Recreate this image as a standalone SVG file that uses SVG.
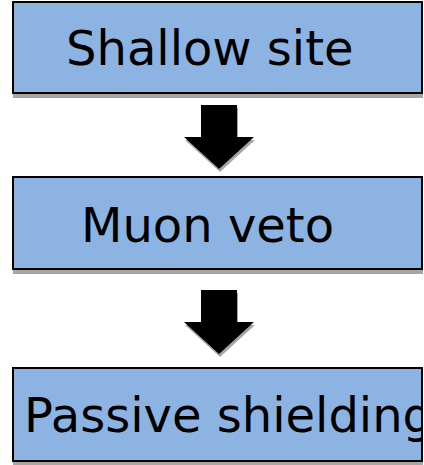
<svg xmlns="http://www.w3.org/2000/svg" width="424" height="465" viewBox="0 0 424 465">
<style>
.box{fill:#8db3e2;stroke:#000;stroke-width:2}
.sh{fill:#a6a6a6}
.t{font-family:"DejaVu Sans",sans-serif;font-size:48px;fill:#000}
.arr{fill:#000}
</style>
<defs>
<clipPath id="c3"><rect x="13" y="368" width="409" height="93"/></clipPath>
</defs>
<rect width="424" height="465" fill="#fff"/>
<g id="connectors">
<polygon class="sh" points="202,108 238,108 238,140 255,140 220,172 185,140 202,140"/>
<polygon class="arr" points="201,105 237,105 237,137 254,137 219,169 184,137 201,137"/>
<polygon class="sh" points="202,293 238,293 238,325 255,325 220,357 185,325 202,325"/>
<polygon class="arr" points="201,290 237,290 237,322 254,322 219,354 184,322 201,322"/>
</g>
<g id="n1">
<rect class="sh" x="13" y="93" width="410" height="5"/>
<rect class="box" x="13" y="2" width="409" height="91"/>
<text class="t" x="66" y="65">Shallow site</text>
</g>
<g id="n2">
<rect class="sh" x="13" y="269" width="410" height="5"/>
<rect class="box" x="13" y="177" width="409" height="92"/>
<text class="t" x="81" y="242">Muon veto</text>
</g>
<g id="n3">
<rect class="sh" x="13" y="461" width="410" height="4"/>
<rect class="box" x="13" y="368" width="409" height="93"/>
<text class="t" x="24" y="432" clip-path="url(#c3)">Passive shielding</text>
</g>
</svg>
